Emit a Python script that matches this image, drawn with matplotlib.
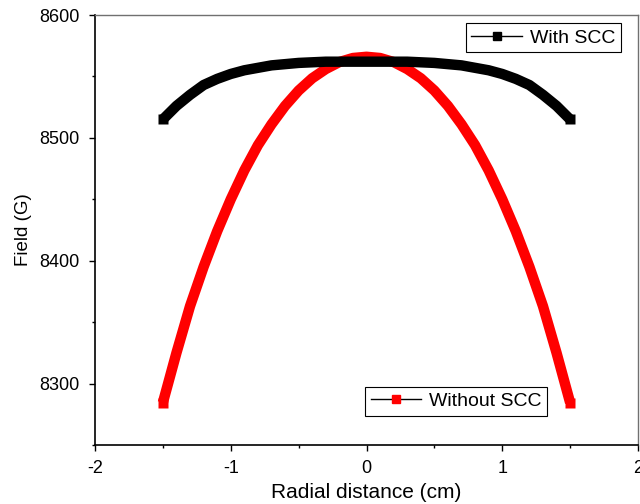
import matplotlib
matplotlib.use("Agg")
import matplotlib.pyplot as plt
from matplotlib.lines import Line2D
from matplotlib.ticker import MultipleLocator

plt.rcParams["font.family"] = ["Liberation Sans", "DejaVu Sans"]
plt.rcParams["axes.unicode_minus"] = False

# radial positions (cm)
radius = [-1.5, -1.4, -1.3, -1.2, -1.1, -1.0, -0.9, -0.8, -0.7, -0.6, -0.5,
          -0.4, -0.3, -0.2, -0.1, 0.0, 0.1, 0.2, 0.3, 0.4, 0.5,
          0.6, 0.7, 0.8, 0.9, 1.0, 1.1, 1.2, 1.3, 1.4, 1.5]

# field with SCC (G)
field_with = [8515, 8526, 8535, 8543, 8548, 8552, 8555, 8557, 8559, 8560, 8561,
              8561.5, 8562, 8562, 8562, 8562, 8562, 8562, 8562, 8561.5, 8561,
              8560, 8559, 8557, 8555, 8552, 8548, 8543, 8535, 8526, 8515]

# field without SCC (G)
field_without = [8284.5, 8325, 8363, 8395, 8424, 8450, 8473.5, 8494, 8511, 8526, 8538.5,
                 8548.5, 8556, 8561.7, 8565, 8566, 8565, 8561.7, 8556, 8548.5, 8538.5,
                 8526, 8511, 8494, 8473.5, 8450, 8424, 8395, 8363, 8325, 8284.5]

LABEL_WITH = "With SCC"
LABEL_WITHOUT = "Without SCC"


def main():
    fig = plt.figure(figsize=(6.4, 5.04), dpi=100)
    ax = fig.add_axes([95 / 640, 1 - 445 / 504, 543 / 640, 430 / 504])

    line_opts = dict(lw=7.5, solid_capstyle="butt", solid_joinstyle="round",
                     marker="s", ms=7.5, markevery=[0, -1], mec="none")
    ax.plot(radius, field_without, color="red", **line_opts)
    ax.plot(radius, field_with, color="black", **line_opts)

    ax.set_xlim(-2, 2)
    ax.set_ylim(8250, 8600)
    ax.xaxis.set_major_locator(MultipleLocator(1))
    ax.xaxis.set_minor_locator(MultipleLocator(0.5))
    ax.yaxis.set_major_locator(MultipleLocator(100))
    ax.yaxis.set_minor_locator(MultipleLocator(50))
    ax.tick_params(which="major", direction="out", length=4.5, width=1, labelsize=13, pad=6.5)
    ax.tick_params(which="minor", direction="out", length=2.5, width=1)
    ax.tick_params(top=False, right=False, which="both")

    for side in ("left", "bottom"):
        ax.spines[side].set_linewidth(1.2)
        ax.spines[side].set_color("black")
    for side in ("top", "right"):
        ax.spines[side].set_linewidth(1.0)
        ax.spines[side].set_color("#707070")

    ax.set_xlabel("Radial distance (cm)", fontsize=15, labelpad=4)
    ax.set_ylabel("Field (G)", fontsize=13.5, labelpad=5)

    h_with = Line2D([], [], color="black", lw=1, marker="s", ms=6)
    h_without = Line2D([], [], color="black", lw=1, marker="s", ms=6,
                       mfc="red", mec="red")
    leg_opts = dict(fontsize=14, frameon=True, fancybox=False, framealpha=1,
                    edgecolor="black", handlelength=2.6, handletextpad=0.4,
                    borderpad=0.3, borderaxespad=0)
    leg1 = ax.legend([h_with], [LABEL_WITH], loc="upper right",
                     bbox_to_anchor=(0.9687, 0.981), **leg_opts)
    leg1.get_frame().set_linewidth(0.8)
    ax.add_artist(leg1)
    leg2 = ax.legend([h_without], [LABEL_WITHOUT], loc="lower left",
                     bbox_to_anchor=(0.497, 0.0674), **leg_opts)
    leg2.get_frame().set_linewidth(0.8)

    fig.savefig("out.png", dpi=100)


if __name__ == "__main__":
    main()
